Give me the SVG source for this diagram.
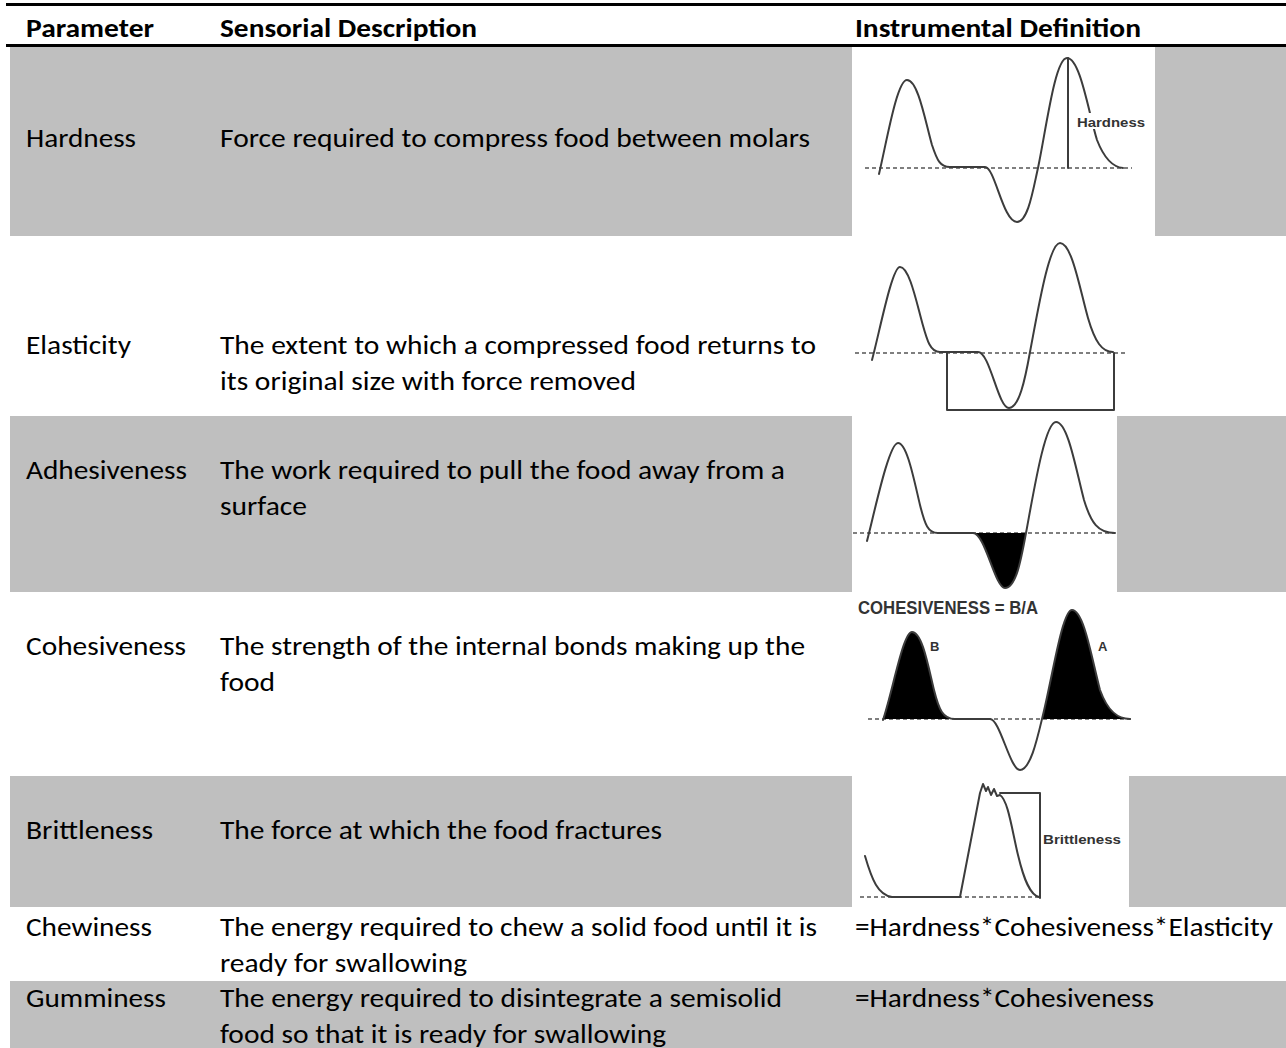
<svg xmlns="http://www.w3.org/2000/svg" width="1286" height="1048" viewBox="0 0 1286 1048">
<style>
.t{font-family:Calibri,Carlito,"Open Sans",sans-serif;font-size:26px;fill:#000;}
.b{font-weight:bold;}
.g{fill:#bfbfbf;}
.w{fill:#fff;}
.rule{fill:#000;}
.crv{fill:none;stroke:#3c3c3c;stroke-width:2;stroke-linejoin:round;stroke-linecap:round;}
.dash{fill:none;stroke:#555;stroke-width:1.6;stroke-dasharray:4 3;}
.blk{fill:#000;stroke:none;}
.lbl{font-family:"Liberation Sans",Arial,sans-serif;font-weight:bold;fill:#333;}
</style>
<rect x="0" y="0" width="1286" height="1048" fill="#fff"/>

<g id="header">
<rect class="rule" x="6" y="3" width="1280" height="3"/>
<rect class="rule" x="6" y="44" width="1280" height="3"/>
<text class="t b" x="26" y="37" textLength="128" lengthAdjust="spacingAndGlyphs">Parameter</text>
<text class="t b" x="220" y="37" textLength="257" lengthAdjust="spacingAndGlyphs">Sensorial Description</text>
<text class="t b" x="855" y="37" textLength="286" lengthAdjust="spacingAndGlyphs">Instrumental Definition</text>
</g>

<g id="row-hardness">
<rect class="g" x="10" y="47" width="1276" height="189"/>
<rect class="w" x="852" y="47" width="303" height="189"/>
<text class="t" x="26" y="147" textLength="110" lengthAdjust="spacingAndGlyphs">Hardness</text>
<text class="t" x="220" y="147" textLength="590" lengthAdjust="spacingAndGlyphs">Force required to compress food between molars</text>
<line class="dash" x1="865" y1="168" x2="1132" y2="168"/>
<path class="crv" d="M879,174 C887,140 897,80 907,80 C918,80 925,120 932,145 C937,160 940,167 950,167 L985,167 C995,167 1003,222 1017,222 C1028,222 1033,190 1038,168 C1046,130 1055,58 1067,58 C1080,58 1088,110 1097,140 C1104,158 1112,167 1123,168"/>
<line class="crv" x1="1068" y1="58" x2="1068" y2="168"/>
<rect class="w" x="1075" y="113" width="72" height="16"/>
<text class="lbl" x="1077" y="127" font-size="12.5" textLength="68" lengthAdjust="spacingAndGlyphs">Hardness</text>
</g>

<g id="row-elasticity">
<text class="t" x="26" y="354" textLength="105" lengthAdjust="spacingAndGlyphs">Elasticity</text>
<text class="t" x="220" y="354" textLength="596" lengthAdjust="spacingAndGlyphs">The extent to which a compressed food returns to</text>
<text class="t" x="220" y="390" textLength="416" lengthAdjust="spacingAndGlyphs">its original size with force removed</text>
<line class="dash" x1="855" y1="353" x2="1125" y2="353"/>
<path class="crv" d="M872,360 C880,330 892,267 900,267 C909,267 916,300 922,322 C927,340 930,352 940,352 L978,352 C990,352 998,408 1009,408 C1019,408 1025,380 1030,352 C1038,310 1049,243 1060,243 C1072,243 1080,290 1088,318 C1095,342 1102,352 1113,352"/>
<path class="crv" d="M947,353 V410 H1114 V353"/>
</g>

<g id="row-adhesiveness">
<rect class="g" x="10" y="416" width="1276" height="176"/>
<rect class="w" x="852" y="416" width="265" height="176"/>
<text class="t" x="26" y="479" textLength="161" lengthAdjust="spacingAndGlyphs">Adhesiveness</text>
<text class="t" x="220" y="479" textLength="565" lengthAdjust="spacingAndGlyphs">The work required to pull the food away from a</text>
<text class="t" x="220" y="515" textLength="87" lengthAdjust="spacingAndGlyphs">surface</text>
<line class="dash" x1="853" y1="533" x2="1115" y2="533"/>
<path class="blk" d="M973,533 C985,533 995,588 1005,588 C1016,588 1021,560 1026,533 Z"/>
<path class="crv" d="M867,541 C875,510 889,443 898,443 C907,443 914,480 920,505 C925,525 928,533 938,533 L973,533 C985,533 995,588 1005,588 C1016,588 1021,560 1026,533 C1034,490 1045,422 1056,422 C1068,422 1076,470 1084,500 C1091,523 1098,533 1115,533"/>
</g>

<g id="row-cohesiveness">
<text class="t" x="26" y="655" textLength="160" lengthAdjust="spacingAndGlyphs">Cohesiveness</text>
<text class="t" x="220" y="655" textLength="585" lengthAdjust="spacingAndGlyphs">The strength of the internal bonds making up the</text>
<text class="t" x="220" y="691" textLength="55" lengthAdjust="spacingAndGlyphs">food</text>
<text class="lbl" x="858" y="614" font-size="17.5" textLength="180" lengthAdjust="spacingAndGlyphs">COHESIVENESS = B/A</text>
<line class="dash" x1="868" y1="719" x2="1133" y2="719"/>
<path class="blk" d="M883,719 C893,690 903,632 912,632 C922,632 928,665 934,690 C939,710 943,719 955,719 Z"/>
<path class="blk" d="M1042,719 C1052,680 1062,610 1072,610 C1084,610 1092,660 1100,690 C1108,712 1118,719 1130,719 Z"/>
<path class="crv" d="M883,720 C893,690 903,632 912,632 C922,632 928,665 934,690 C939,710 943,719 955,719 L990,719 C1000,719 1010,770 1020,770 C1030,770 1037,740 1042,719 C1052,680 1062,610 1072,610 C1084,610 1092,660 1100,690 C1108,712 1118,719 1130,719"/>
<text class="lbl" x="930" y="651" font-size="13">B</text>
<text class="lbl" x="1098" y="651" font-size="13">A</text>
</g>

<g id="row-brittleness">
<rect class="g" x="10" y="776" width="1276" height="131"/>
<rect class="w" x="852" y="776" width="277" height="131"/>
<text class="t" x="26" y="839" textLength="127" lengthAdjust="spacingAndGlyphs">Brittleness</text>
<text class="t" x="220" y="839" textLength="442" lengthAdjust="spacingAndGlyphs">The force at which the food fractures</text>
<line class="dash" x1="860" y1="897" x2="1042" y2="897"/>
<path class="crv" d="M865,856 C872,880 878,895 892,897 L960,897 L980,793 L983,784 L986,791 L988,787 L991,795 L994,789 L997,796 L1000,795 C1008,800 1012,830 1018,855 C1024,880 1030,895 1039,897"/>
<path class="crv" d="M1000,793 H1040 V898"/>
<text class="lbl" x="1043" y="844" font-size="12.5" textLength="78" lengthAdjust="spacingAndGlyphs">Brittleness</text>
</g>

<g id="row-chewiness">
<text class="t" x="26" y="936" textLength="126" lengthAdjust="spacingAndGlyphs">Chewiness</text>
<text class="t" x="220" y="936" textLength="597" lengthAdjust="spacingAndGlyphs">The energy required to chew a solid food until it is</text>
<text class="t" x="220" y="972" textLength="247" lengthAdjust="spacingAndGlyphs">ready for swallowing</text>
<text class="t" x="855" y="936" textLength="418" lengthAdjust="spacingAndGlyphs">=Hardness*Cohesiveness*Elasticity</text>
</g>

<g id="row-gumminess">
<rect class="g" x="10" y="981" width="1276" height="67"/>
<text class="t" x="26" y="1007" textLength="140" lengthAdjust="spacingAndGlyphs">Gumminess</text>
<text class="t" x="220" y="1007" textLength="562" lengthAdjust="spacingAndGlyphs">The energy required to disintegrate a semisolid</text>
<text class="t" x="220" y="1043" textLength="446" lengthAdjust="spacingAndGlyphs">food so that it is ready for swallowing</text>
<text class="t" x="855" y="1007" textLength="299" lengthAdjust="spacingAndGlyphs">=Hardness*Cohesiveness</text>
</g>

<g id="connectors"></g>
</svg>
